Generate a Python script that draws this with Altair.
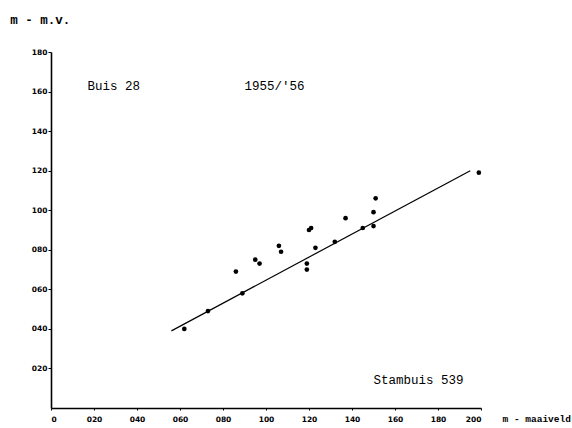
import altair as alt
import pandas as pd

# measured points (x: m - maaiveld, y: m - m.v.)
px = [0.62, 0.73, 0.86, 0.89, 0.95, 0.97, 1.06, 1.07, 1.19, 1.19, 1.20, 1.21,
      1.23, 1.32, 1.37, 1.45, 1.50, 1.50, 1.51, 1.99]
py = [0.40, 0.49, 0.69, 0.58, 0.75, 0.73, 0.82, 0.79, 0.73, 0.70, 0.90, 0.91,
      0.81, 0.84, 0.96, 0.91, 0.92, 0.99, 1.06, 1.19]

# regression line endpoints
line_x = [0.56, 1.95]
line_y = [0.39, 1.20]

x_ticks = [0, 0.2, 0.4, 0.6, 0.8, 1.0, 1.2, 1.4, 1.6, 1.8, 2.0]
y_ticks = [0.2, 0.4, 0.6, 0.8, 1.0, 1.2, 1.4, 1.6, 1.8]

label_texts = ["Buis 28", "1955/'56", "Stambuis 539"]
label_x = [0.17, 0.90, 1.50]
label_y = [1.63, 1.63, 0.14]

pts = pd.DataFrame({"x": px, "y": py})
ln = pd.DataFrame({"x": line_x, "y": line_y})
lab = pd.DataFrame({"x": label_x, "y": label_y, "t": label_texts})

lab_expr = "datum.value == 0 ? '0' : (datum.value < 0.99 ? '0' + format(round(datum.value*100), 'd') : format(round(datum.value*100), 'd'))"

xs = alt.Scale(domain=[0, 2.0], nice=False, zero=False)
ys = alt.Scale(domain=[0, 1.8], nice=False, zero=False)

xenc = alt.X("x:Q", scale=xs, axis=alt.Axis(values=x_ticks, labelExpr=lab_expr, title=None,
                                             grid=False, domainColor="black", domainWidth=1.6,
                                             tickColor="black", tickSize=2, labelFont="DejaVu Sans",
                                             labelFontWeight="bold", labelFontSize=7.5, labelColor="black",
                                             labelPadding=5, labelOverlap=False))
yenc = alt.Y("y:Q", scale=ys, axis=alt.Axis(values=y_ticks, labelExpr=lab_expr, title=None,
                                             grid=False, domainColor="black", domainWidth=1.6,
                                             tickColor="black", tickSize=3, labelFont="DejaVu Sans",
                                             labelFontWeight="bold", labelFontSize=7.5, labelColor="black",
                                             labelPadding=1, labelOverlap=False))

points = alt.Chart(pts).mark_circle(size=22, color="black", opacity=1).encode(x=xenc, y=yenc)
line = alt.Chart(ln).mark_line(color="black", strokeWidth=1.2).encode(x="x:Q", y="y:Q")
labels = alt.Chart(lab).mark_text(font="Liberation Mono", fontSize=12.5, align="left",
                                  baseline="middle", color="black").encode(x="x:Q", y="y:Q", text="t:N")

xtitle = alt.Chart(pd.DataFrame({"x": [2.10], "y": [0.0], "t": ["m - maaiveld"]})).mark_text(
    font="Liberation Mono", fontWeight="bold", fontSize=9.5, align="left", baseline="middle", dy=11,
    color="black").encode(x="x:Q", y="y:Q", text="t:N")
ytitle = alt.Chart(pd.DataFrame({"x": [-0.19], "y": [1.8], "t": ["m - m.v."]})).mark_text(
    font="Liberation Mono", fontWeight="bold", fontSize=12.5, align="left", baseline="middle", dy=-32,
    color="black").encode(x="x:Q", y="y:Q", text="t:N")

chart = alt.layer(line, points, labels, xtitle, ytitle).properties(
    width=430, height=356, autosize="none",
    padding={"left": 51, "top": 52, "right": 91, "bottom": 20},
    background="white"
).configure_view(stroke=None)

chart.save("out.html", embed_options={"renderer": "svg", "actions": False})
